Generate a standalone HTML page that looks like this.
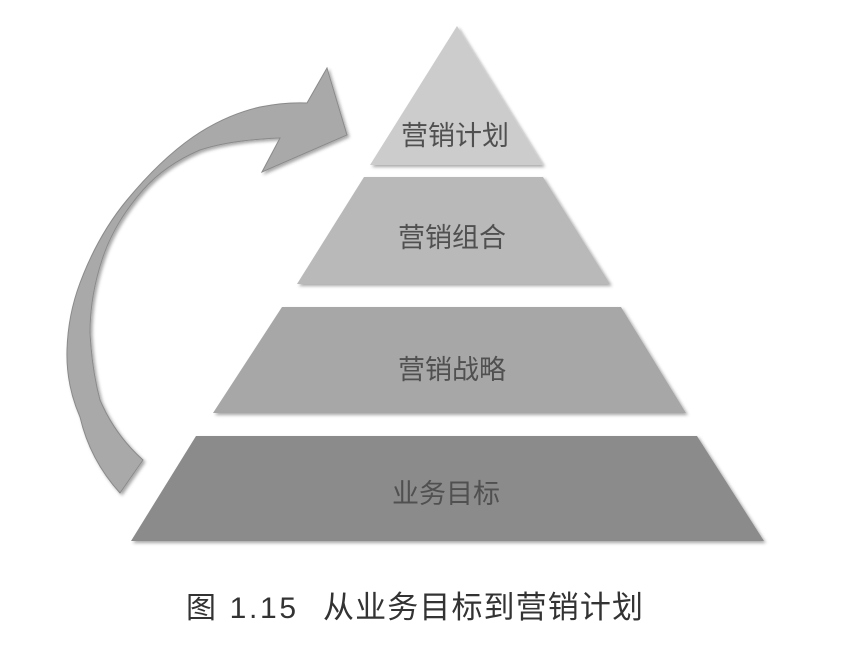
<!DOCTYPE html>
<html><head><meta charset="utf-8"><style>
body{margin:0;background:#fff;}
svg{display:block}
text{font-family:"Liberation Sans","Noto Sans CJK SC",sans-serif;}
</style></head><body>
<svg width="854" height="652" viewBox="0 0 854 652">
<defs><filter id="s" x="-10%" y="-10%" width="120%" height="120%"><feDropShadow dx="2" dy="2" stdDeviation="1.5" flood-color="#000" flood-opacity="0.35"/></filter></defs>
<path filter="url(#s)" fill="#a9a9a9" stroke="#8a8a8a" stroke-width="1" d="M327,68 L347,135 L262,172 L280,138 Q230,140 200,150 Q165,165 143,190 Q115,222 103,257 Q90,295 90,333 Q92,370 100,400 Q115,435 143,460 L120,493 Q90,460 80,417 Q66,385 67,350 Q68,315 80,283 Q98,235 127,200 Q160,160 193,137 Q225,115 260,107 Q285,102 307,103 Z"/>
<polygon filter="url(#s)" fill="#cccccc" points="457,26 543,165 370,165"/>
<polygon filter="url(#s)" fill="#b9b9b9" points="364,177 543,177 610,284 297,284"/>
<polygon filter="url(#s)" fill="#a7a7a7" points="282,307 621,307 686,413 213,413"/>
<polygon filter="url(#s)" fill="#8b8b8b" points="196,436 697,436 764,541 131,541"/>
<g font-size="27" fill="#505050">
<text x="401" y="145">营销计划</text>
<text x="398" y="247">营销组合</text>
<text x="398" y="379">营销战略</text>
<text x="392" y="503">业务目标</text>
</g>
<text x="186" y="618" font-size="30" fill="#333" textLength="110">图 1.15</text>
<text x="323" y="618" font-size="31" fill="#333" textLength="320">从业务目标到营销计划</text>
</svg>
</body></html>
